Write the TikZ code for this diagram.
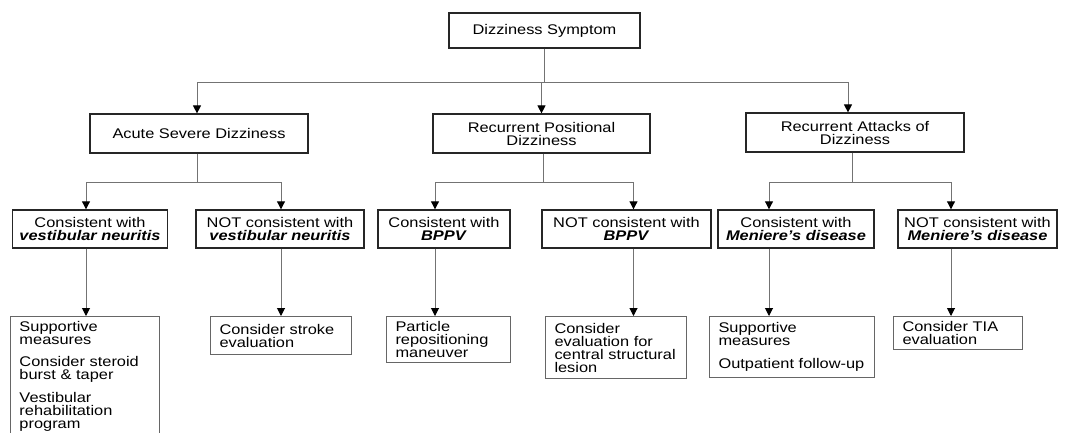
\documentclass[tikz,border=0pt]{standalone}
\usepackage{fontspec}
\setmainfont{Liberation Sans}[FakeStretch=1.17]
\usepackage{tikz}
\usetikzlibrary{positioning}
\usetikzlibrary{arrows,arrows.meta}
\usetikzlibrary{calc}
\tikzstyle{coord} = [coordinate]
\tikzstyle{txt} = [font=\fontsize{14}{13}\selectfont]
\tikzstyle{headbox} = [txt, draw=black!85, line width=1.2pt, align=center, inner sep=2pt]
\tikzstyle{casebox} = [txt, draw=black!85, line width=1.4pt, align=center, inner sep=2pt, minimum height=38pt]
\tikzstyle{stepbox} = [txt, draw=black!60, line width=1pt, align=left, anchor=north west, inner xsep=9pt, inner ysep=5pt]
\tikzstyle{link} = [draw=black!55, line width=1pt]
\newcommand{\bi}[1]{\textbf{\textit{#1}}}

\begin{document}
\begin{tikzpicture}[x=1pt, y=-1pt, auto, >={Triangle[width=8pt,length=8pt,color=black]}]

    \fill[white] (0,0) rectangle (1069,432);
    \useasboundingbox (0,0) rectangle (1069,432);

    \node[headbox, minimum width=191pt, minimum height=35pt] (top) at (544.5,30.5) {Dizziness Symptom};

    % left
    \node[headbox, minimum width=218pt, minimum height=39pt] (acute) at (199,133.5) {Acute Severe Dizziness};
    \node[casebox, minimum width=155pt] (c1) at (90,229) {Consistent with\\\bi{vestibular neuritis}};
    \node[casebox, minimum width=168pt] (c2) at (280,229) {NOT consistent with\\\bi{vestibular neuritis}};

    % middle
    \node[headbox, minimum width=217pt, minimum height=39pt] (posit) at (541.5,133.5) {Recurrent Positional\\Dizziness};
    \node[casebox, minimum width=132pt] (c3) at (444,229) {Consistent with\\\bi{BPPV}};
    \node[casebox, minimum width=169pt] (c4) at (626.5,229) {NOT consistent with\\\bi{BPPV}};

    % right
    \node[headbox, minimum width=218pt, minimum height=39pt] (attack) at (855,132.5) {Recurrent Attacks of\\Dizziness};
    \node[casebox, minimum width=156pt] (c5) at (796,229) {Consistent with\\\bi{Meniere's disease}};
    \node[casebox, minimum width=159pt] (c6) at (977.5,229) {NOT consistent with\\\bi{Meniere's disease}};

    % what to do
    \node[stepbox, minimum width=149pt, text width=131pt, minimum height=119pt] (s1) at (10,316)
        {Supportive\\measures\\[9pt]Consider steroid\\burst \& taper\\[9pt]Vestibular\\rehabilitation\\program};
    \node[stepbox, minimum width=141pt, text width=123pt, minimum height=38pt] (s2) at (210,316) {Consider stroke\\evaluation};
    \node[stepbox, minimum width=124pt, text width=106pt, minimum height=46pt] (s3) at (386,316) {Particle\\repositioning\\maneuver};
    \node[stepbox, minimum width=141pt, text width=123pt, minimum height=62pt] (s4) at (545,316) {Consider\\evaluation for\\central structural\\lesion};
    \node[stepbox, minimum width=165pt, text width=147pt, minimum height=61pt] (s5) at (709,316) {Supportive\\measures\\[10.5pt]Outpatient follow-up};
    \node[stepbox, minimum width=129pt, text width=111pt, minimum height=32pt] (s6) at (893,316) {Consider TIA\\evaluation};

    % first split
    \coordinate (hub) at (top.south |- 0,82);
    \draw[link] (top.south) -- (hub);
    \draw[link,->] (hub) -| ([xshift=-2pt]acute.north);
    \draw[link,->] (hub) -| (posit.north);
    \draw[link,->] (hub) -| ([xshift=-7pt]attack.north);

    % second split
    \coordinate (acj) at ([xshift=-2pt]acute.south |- 0,182);
    \coordinate (posj) at ([xshift=2pt]posit.south |- 0,182);
    \coordinate (attj) at ([xshift=-3pt]attack.south |- 0,182);
    \draw[link] ([xshift=-2pt]acute.south) -- (acj);
    \draw[link] ([xshift=2pt]posit.south) -- (posj);
    \draw[link] ([xshift=-3pt]attack.south) -- (attj);
    \draw[link,->] (acj) -| ([xshift=-4pt]c1.north);
    \draw[link,->] (acj) -| ([xshift=1pt]c2.north);
    \draw[link,->] (posj) -| ([xshift=-9pt]c3.north);
    \draw[link,->] (posj) -| ([xshift=7pt]c4.north);
    \draw[link,->] (attj) -| ([xshift=-27pt]c5.north);
    \draw[link,->] (attj) -| ([xshift=-26.5pt]c6.north);

    % down to the steps
    \draw[link,->] ([xshift=-4pt]c1.south) -- ([xshift=-4pt]c1.south |- s1.north);
    \draw[link,->] ([xshift=1pt]c2.south) -- ([xshift=1pt]c2.south |- s2.north);
    \draw[link,->] ([xshift=-9pt]c3.south) -- ([xshift=-9pt]c3.south |- s3.north);
    \draw[link,->] ([xshift=7pt]c4.south) -- ([xshift=7pt]c4.south |- s4.north);
    \draw[link,->] ([xshift=-27pt]c5.south) -- ([xshift=-27pt]c5.south |- s5.north);
    \draw[link,->] ([xshift=-26.5pt]c6.south) -- ([xshift=-26.5pt]c6.south |- s6.north);

\end{tikzpicture}
\end{document}
